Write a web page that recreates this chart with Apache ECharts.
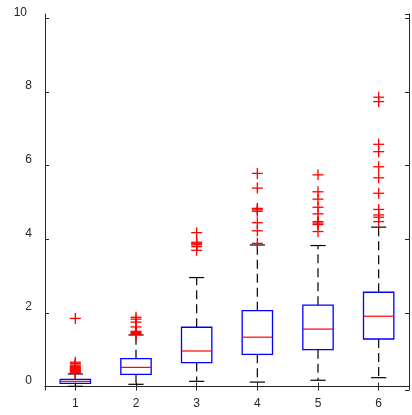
<!DOCTYPE html>
<html>
<head>
<meta charset="utf-8">
<script src="https://cdn.jsdelivr.net/npm/echarts@6/dist/echarts.min.js"></script>
<style>html,body{margin:0;padding:0;background:#fff;}#c{width:412px;height:415px;}</style>
</head>
<body>
<div id="c"></div>
<script>
const categories = ['1', '2', '3', '4', '5', '6'];
const lowerWhisker = [0.005, 0.06, 0.14, 0.12, 0.17, 0.24];
const q1 = [0.087, 0.33, 0.65, 0.875, 1.0, 1.29];
const median = [0.14, 0.52, 0.965, 1.34, 1.56, 1.91];
const q3 = [0.196, 0.755, 1.61, 2.06, 2.21, 2.56];
const upperWhisker = [0.34, 1.40, 2.96, 3.845, 3.83, 4.33];
const outliers = [
  [0.36, 0.38, 0.40, 0.42, 0.44, 0.46, 0.48, 0.50, 0.52, 0.55, 0.58, 0.62, 0.66, 1.85],
  [1.42, 1.44, 1.47, 1.50, 1.62, 1.75, 1.83, 1.88],
  [3.70, 3.80, 3.85, 3.88, 3.92, 4.18],
  [3.89, 4.23, 4.45, 4.76, 4.80, 4.84, 5.39, 5.79],
  [4.21, 4.40, 4.44, 4.48, 4.69, 4.87, 5.09, 5.29, 5.75],
  [4.48, 4.60, 4.66, 4.81, 5.25, 5.67, 5.97, 6.38, 6.58, 7.74, 7.86]
];
const yTicks = [0, 2, 4, 6, 8, 10];

const axisColor = '#262626';
const fontFam = 'Liberation Sans, Arial, sans-serif';
const boxData = categories.map((c, i) => [i, lowerWhisker[i], q1[i], median[i], q3[i], upperWhisker[i]]);
const outlierData = [];
outliers.forEach((arr, i) => arr.forEach(v => outlierData.push([i, v])));

const yFmt = v => {
  const r = Math.round(v);
  if (Math.abs(v - r) > 1e-6 || yTicks.indexOf(r) < 0) return '';
  return r === 10 ? '{t|10}' : String(r);
};

const chart = echarts.init(document.getElementById('c'), null, {renderer: 'canvas'});
chart.setOption({
  animation: false,
  backgroundColor: '#fff',
  grid: {left: 45, top: 14, right: 3, bottom: 25, containLabel: false},
  xAxis: [{
    type: 'category', data: categories, boundaryGap: true, position: 'bottom',
    axisLine: {show: true, lineStyle: {color: axisColor, width: 1}},
    axisTick: {show: true, inside: true, alignWithLabel: true, length: 4, lineStyle: {color: axisColor}},
    axisLabel: {color: axisColor, fontSize: 12, margin: 8, fontFamily: fontFam},
    splitLine: {show: false}
  }, {
    type: 'category', data: categories, boundaryGap: true, position: 'top',
    axisLine: {show: true, lineStyle: {color: axisColor, width: 1}},
    axisTick: {show: true, inside: true, alignWithLabel: true, length: 4, lineStyle: {color: axisColor}},
    axisLabel: {show: false},
    splitLine: {show: false}
  }],
  yAxis: [{
    type: 'value', min: -0.095, max: 10.12, splitNumber: 5, position: 'left',
    axisLine: {show: true, lineStyle: {color: axisColor, width: 1}},
    axisTick: {show: true, inside: true, length: 4, lineStyle: {color: axisColor}},
    axisLabel: {color: axisColor, fontSize: 12, margin: 13, verticalAlign: 'bottom',
      showMinLabel: false, showMaxLabel: false,
      fontFamily: fontFam, formatter: yFmt,
      rich: {t: {color: axisColor, fontSize: 12, padding: [0, 5, 0, 0], fontFamily: fontFam}}},
    splitLine: {show: false}
  }, {
    type: 'value', min: -0.095, max: 10.12, splitNumber: 5, position: 'right',
    axisLine: {show: true, lineStyle: {color: axisColor, width: 1}},
    axisTick: {show: true, inside: true, length: 4, lineStyle: {color: axisColor}},
    axisLabel: {show: false},
    splitLine: {show: false}
  }],
  series: [{
    type: 'custom',
    xAxisIndex: 0, yAxisIndex: 0,
    data: boxData,
    encode: {x: 0, y: [1, 2, 3, 4, 5]},
    renderItem: function (params, api) {
      const i = api.value(0);
      const xc = api.coord([i, 0])[0];
      const band = api.size([1, 0])[0];
      const bw = band * 0.5, cw = band * 0.25;
      const yLw = api.coord([i, api.value(1)])[1];
      const yQ1 = api.coord([i, api.value(2)])[1];
      const yMed = api.coord([i, api.value(3)])[1];
      const yQ3 = api.coord([i, api.value(4)])[1];
      const yUw = api.coord([i, api.value(5)])[1];
      const dash = {stroke: '#000', lineWidth: 1.2, lineDash: [9, 5]};
      const solid = {stroke: '#000', lineWidth: 1.2};
      return {
        type: 'group',
        children: [
          {type: 'line', shape: {x1: xc, y1: yQ3, x2: xc, y2: yUw}, style: dash},
          {type: 'line', shape: {x1: xc, y1: yQ1, x2: xc, y2: yLw}, style: dash},
          {type: 'line', shape: {x1: xc - cw / 2, y1: yUw, x2: xc + cw / 2, y2: yUw}, style: solid},
          {type: 'line', shape: {x1: xc - cw / 2, y1: yLw, x2: xc + cw / 2, y2: yLw}, style: solid},
          {type: 'rect', shape: {x: xc - bw / 2, y: yQ3, width: bw, height: yQ1 - yQ3},
            style: {fill: 'none', stroke: '#0000ff', lineWidth: 1.3}},
          {type: 'line', shape: {x1: xc - bw / 2, y1: yMed, x2: xc + bw / 2, y2: yMed},
            style: {stroke: '#ff0000', lineWidth: 1.2}}
        ]
      };
    }
  }, {
    type: 'custom',
    xAxisIndex: 0, yAxisIndex: 0,
    data: outlierData,
    encode: {x: 0, y: 1},
    renderItem: function (params, api) {
      const p = api.coord([api.value(0), api.value(1)]);
      const h = 5.5;
      const st = {stroke: '#ff0000', lineWidth: 1.3};
      return {
        type: 'group',
        children: [
          {type: 'line', shape: {x1: p[0] - h, y1: p[1], x2: p[0] + h, y2: p[1]}, style: st},
          {type: 'line', shape: {x1: p[0], y1: p[1] - h, x2: p[0], y2: p[1] + h}, style: st}
        ]
      };
    }
  }]
});
</script>
</body>
</html>
